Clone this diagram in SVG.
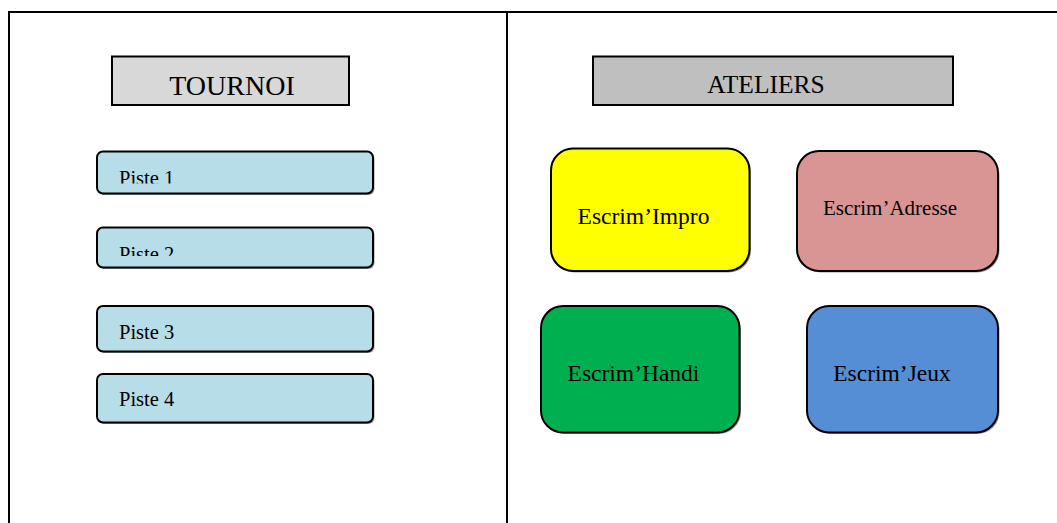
<svg xmlns="http://www.w3.org/2000/svg" width="1057" height="523" viewBox="0 0 1057 523">
<style>
  .frame{stroke:#000;stroke-width:2;fill:none}
  .box{stroke:#000;stroke-width:2}
  .shadow{fill:#9a9a9a}
  .t{font-family:"Liberation Serif","Times New Roman",serif;fill:#000}
  .piste{fill:#b7dde8}
</style>
<defs>
  <clipPath id="c1"><rect x="97" y="151" width="276" height="32.5"/></clipPath>
  <clipPath id="c2"><rect x="97" y="227" width="276" height="29"/></clipPath>
</defs>
<rect width="1057" height="523" fill="#fff"/>
<g id="frame">
  <line class="frame" x1="8" y1="12" x2="1057" y2="12"/>
  <line class="frame" x1="9" y1="11" x2="9" y2="523"/>
  <line class="frame" x1="507" y1="12" x2="507" y2="523"/>
</g>
<g id="tournoi">
  <rect x="112" y="56.5" width="237" height="48.5" fill="#d8d8d8" class="box"/>
  <text class="t" x="232" y="95" font-size="28" text-anchor="middle">TOURNOI</text>
</g>
<g id="ateliers">
  <rect x="593" y="56.5" width="360" height="48.5" fill="#bfbfbf" class="box"/>
  <text class="t" x="766" y="92.5" font-size="25.5" text-anchor="middle">ATELIERS</text>
</g>
<g id="piste1">
  <rect class="shadow" x="98.5" y="153" width="276" height="42" rx="6"/>
  <rect class="box piste" x="97" y="151.5" width="276" height="42" rx="6"/>
  <text class="t" x="119" y="184.5" font-size="20.5" clip-path="url(#c1)">Piste 1</text>
</g>
<g id="piste2">
  <rect class="shadow" x="98.5" y="229" width="276" height="40" rx="6"/>
  <rect class="box piste" x="97" y="227.5" width="276" height="40" rx="6"/>
  <text class="t" x="119" y="260.5" font-size="20.5" clip-path="url(#c2)">Piste 2</text>
</g>
<g id="piste3">
  <rect class="shadow" x="98.5" y="307.5" width="276" height="45.5" rx="6"/>
  <rect class="box piste" x="97" y="306" width="276" height="45.5" rx="6"/>
  <text class="t" x="119" y="338.5" font-size="20.5">Piste 3</text>
</g>
<g id="piste4">
  <rect class="shadow" x="98.5" y="375.5" width="276" height="48.5" rx="6"/>
  <rect class="box piste" x="97" y="374" width="276" height="48.5" rx="6"/>
  <text class="t" x="119" y="406" font-size="20.5">Piste 4</text>
</g>
<g id="impro">
  <rect class="shadow" x="552.5" y="150" width="198.5" height="122.5" rx="22"/>
  <rect class="box" x="551" y="148.5" width="198.5" height="122.5" rx="22" fill="#ffff00"/>
  <text class="t" x="643.5" y="223.5" font-size="23.5" text-anchor="middle">Escrim’Impro</text>
</g>
<g id="adresse">
  <rect class="shadow" x="798.5" y="152.5" width="201" height="120" rx="22"/>
  <rect class="box" x="797" y="151" width="201" height="120" rx="22" fill="#d99594"/>
  <text class="t" x="890" y="215" font-size="21" text-anchor="middle">Escrim’Adresse</text>
</g>
<g id="handi">
  <rect class="shadow" x="542.5" y="307.5" width="198.5" height="126.5" rx="22"/>
  <rect class="box" x="541" y="306" width="198.5" height="126.5" rx="22" fill="#00b050"/>
  <text class="t" x="633.5" y="381" font-size="23.5" text-anchor="middle">Escrim’Handi</text>
</g>
<g id="jeux">
  <rect class="shadow" x="808.5" y="307.5" width="191" height="126.5" rx="22"/>
  <rect class="box" x="807" y="306" width="191" height="126.5" rx="22" fill="#558ed5"/>
  <text class="t" x="892" y="381" font-size="23.5" text-anchor="middle">Escrim’Jeux</text>
</g>
<g id="connectors"></g>
</svg>
